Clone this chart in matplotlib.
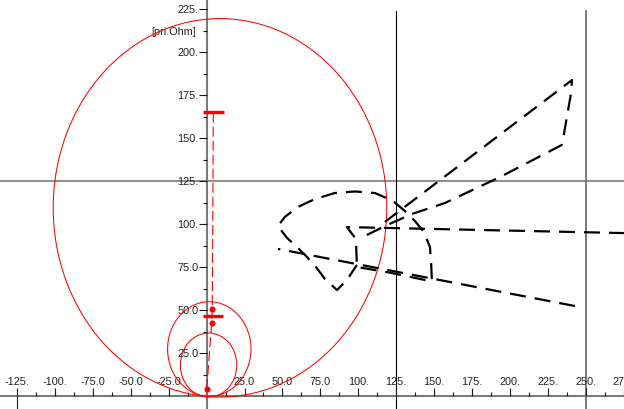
import matplotlib
matplotlib.use("Agg")
import matplotlib.pyplot as plt
from matplotlib.patches import Circle
from matplotlib.transforms import offset_copy

plt.rcParams['font.family'] = ['Liberation Sans', 'DejaVu Sans']
plt.rcParams['lines.scale_dashes'] = False

# ---- axis ticks and labels (R / X in primary ohms) ----
x_tick_values = [-125, -100, -75, -50, -25, 25, 50, 75, 100, 125, 150, 175, 200, 225, 250, 275]
x_tick_labels = ["-125.", "-100.", "-75.0", "-50.0", "-25.0", "25.0", "50.0", "75.0",
                 "100.", "125.", "150.", "175.", "200.", "225.", "250.", "275."]
y_tick_values = [25, 50, 75, 100, 125, 150, 175, 200, 225]
y_tick_labels = ["25.0", "50.0", "75.0", "100.", "125.", "150.", "175.", "200.", "225."]
unit_label = "[pri.Ohm]"
unit_label_pos = 212.5

# ---- mho zone circles: centre R, centre X, radius ----
zone_center_r = [8.8, 1.75, 1.3]
zone_center_x = [109.7, 27.6, 18.3]
zone_radius = [110.0, 27.5, 18.6]

# ---- red reach trace, markers and bars ----
reach_r = [4.4, 3.9, 3.7, 3.3, 0.4, 0.0, 0.0]
reach_x = [165.0, 75.0, 50.9, 42.6, 8.0, 4.4, 0.5]
marker_r = [3.7, 3.3, 0.0]
marker_x = [50.9, 42.6, 4.4]
bar_x = [165.2, 46.8]
bar_r_left = [-2.6, -2.4]
bar_r_right = [11.4, 10.6]

# ---- impedance trajectories (black dashed) ----
traj1_r = [285.8, 92.5, 98.5, 99.1, 120.9, 148.6, 148.0, 147.3, 143.3, 137.4, 130.8,
           122.9, 111.0, 97.8, 84.6, 71.4, 60.2, 51.6, 47.0, 53.0, 59.6, 66.2, 72.1,
           78.0, 86.0, 92.5, 99.1]
traj1_x = [94.8, 98.5, 91.6, 75.3, 72.0, 66.9, 78.8, 86.9, 95.6, 102.0, 107.8,
           113.7, 118.3, 119.2, 118.3, 114.8, 110.2, 104.4, 99.1, 92.2, 86.9, 81.1, 75.3,
           68.3, 61.9, 67.7, 76.5]
traj2_r = [242.9, 47.0]
traj2_x = [52.6, 85.8]
traj3_r = [105.7, 117.6, 135.4, 157.2, 193.5, 234.2, 235.5, 237.9, 240.3, 241.0, 117.6]
traj3_x = [93.9, 99.1, 106.1, 112.5, 127.6, 146.2, 151.5, 164.0, 175.9, 184.0, 101.5]

# ---- figure ----
fig = plt.figure(figsize=(6.24, 4.10), dpi=100)
ax = fig.add_axes([0, 0, 1, 1])
r_min, r_max = -136.3, 275.3
x_min, x_max = -7.27, 231.1
ax.set_xlim(r_min, r_max)
ax.set_ylim(x_min, x_max)
ax.axis('off')

axis_grey = '#7a7a7a'
tick_col = '#1a1a1a'
text_col = '#222222'

# grid lines at 125-ohm spacing
ax.axhline(125, color=axis_grey, lw=1.2, zorder=1)
ax.plot([125, 125], [x_min, 224], color='black', lw=0.8, zorder=1)
ax.plot([250, 250], [x_min, 224], color=axis_grey, lw=1.4, zorder=1)
ax.plot([-125, -125], [x_min, 0], color=tick_col, lw=0.8, zorder=1)

# main axes
ax.axhline(0, color=axis_grey, lw=1.5, zorder=2)
ax.axvline(0, color=axis_grey, lw=1.5, zorder=2)

# x ticks (upwards from axis), major every 25, minor halfway
major_r = [v for v in range(-125, 276, 25) if v != 0]
minor_r = [v + 12.5 for v in range(-150, 276, 25)]
ax.vlines(major_r, 0, 4.7, color=tick_col, lw=0.8, zorder=3)
ax.vlines(minor_r, 0, 2.4, color=tick_col, lw=0.8, zorder=3)

# y ticks (to the left of axis)
major_x = list(range(25, 226, 25))
minor_x = [v + 12.5 for v in range(0, 226, 25)]
ax.hlines(major_x, -5.3, 0, color=tick_col, lw=0.8, zorder=3)
ax.hlines(minor_x, -2.7, 0, color=tick_col, lw=0.8, zorder=3)

fs = 7.8
x_lab_tr = offset_copy(ax.transData, fig=fig, x=0, y=15.5, units='dots')
for v, s in zip(x_tick_values, x_tick_labels):
    ax.text(v, 0, s, transform=x_lab_tr, ha='center', va='center',
            fontsize=fs, color=text_col, zorder=4)
y_lab_tr = offset_copy(ax.transData, fig=fig, x=-8, y=0, units='dots')
for v, s in zip(y_tick_values, y_tick_labels):
    ax.text(0, v, s, transform=y_lab_tr, ha='right', va='center',
            fontsize=fs, color=text_col, zorder=4)
unit_tr = offset_copy(ax.transData, fig=fig, x=-11, y=0, units='dots')
ax.text(0, unit_label_pos, unit_label, transform=unit_tr, ha='right', va='center',
        fontsize=fs, color=text_col, zorder=4)

# mho zone circles
for cr, cx, rad in zip(zone_center_r, zone_center_x, zone_radius):
    ax.add_patch(Circle((cr, cx), rad, fill=False, edgecolor='#ff0000', lw=0.75, zorder=5))

# reach trace with markers and bars
ax.plot(reach_r, reach_x, color='#ff0000', lw=0.8, linestyle=(0, (7.2, 2.9)), zorder=6)
ax.plot(marker_r, marker_x, 'o', color='#ff0000', ms=3.4, zorder=6)
ax.hlines(bar_x, bar_r_left, bar_r_right, color='#ff0000', lw=2.4, zorder=6)

# impedance trajectories
dash = (0, (11.5, 6.5))
for tr, tx in [(traj1_r, traj1_x), (traj2_r, traj2_x), (traj3_r, traj3_x)]:
    ax.plot(tr, tx, color='black', lw=1.6, linestyle=dash, zorder=7,
            solid_capstyle='butt', dash_capstyle='butt')

fig.savefig('out.png', dpi=100)
